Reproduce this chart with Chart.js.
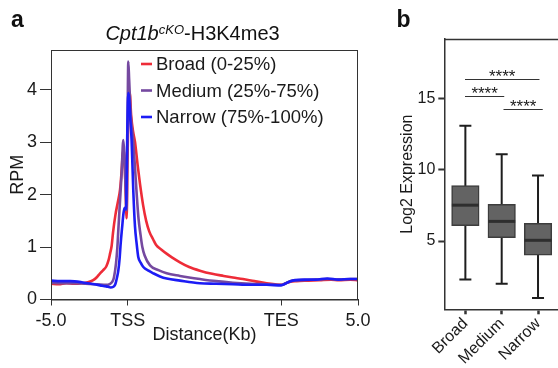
<!DOCTYPE html>
<html>
<head>
<meta charset="utf-8">
<script src="https://cdn.jsdelivr.net/npm/chart.js@4"></script>
<style>
body{margin:0;background:#fff;}
#wrap{position:relative;width:558px;height:368px;overflow:hidden;background:#fff;}
#chartA{position:absolute;left:0;top:0;}
#chartB{position:absolute;left:380px;top:0;}
</style>
</head>
<body>
<div id="wrap">
<canvas id="chartA" width="380" height="368"></canvas>
<canvas id="chartB" width="178" height="368"></canvas>
</div>
<script>
// panel a : H3K4me3 profile, x in bins (0..400, TSS = 100, TES = 300)
const xTicks=[0,100,300,400];
const xTickLabels=["-5.0","TSS","TES","5.0"];
const yTicksA=[0,1,2,3,4];
const seriesNames=["Broad (0-25%)","Medium (25%-75%)","Narrow (75%-100%)"];
const seriesColors=["#ee2c38","#7549a0","#1c1cf5"];

const broadX=[0,10,20,30,40,48,55,60,64,68,72,75,77,79,81,84,87,90,92,94,95.5,97,98.6,99.6,101,102.5,104.5,107,109.5,113,116,120,124,128,133,137,144,151,158,168,180,194,210,225,237,250,265,281,292,301,306,312,320,335,350,365,375,390,400];
const broadY=[0.30,0.29,0.31,0.30,0.31,0.33,0.37,0.43,0.50,0.56,0.63,0.75,0.88,1.02,1.30,1.62,1.85,2.10,2.45,2.85,2.75,2.20,1.55,2.60,3.70,3.95,3.50,3.20,3.00,2.55,2.20,1.80,1.50,1.30,1.15,1.04,0.95,0.87,0.80,0.71,0.62,0.55,0.49,0.45,0.42,0.39,0.35,0.31,0.29,0.28,0.31,0.34,0.35,0.36,0.37,0.38,0.37,0.38,0.37];

const mediumX=[0,15,30,45,60,72,77,80,82,84.7,86.5,87.7,90,92,94.2,95.5,97,98.5,99.5,100.7,101.8,104,107,109.5,111.7,114,116.5,119,122,129,140,150.7,168,180,194,215,237,260,281,301,307,315,330,345,360,375,390,400];
const mediumY=[0.32,0.31,0.31,0.30,0.29,0.28,0.30,0.34,0.42,0.69,1.00,1.32,1.90,2.40,3.04,2.80,2.20,1.70,2.90,4.54,4.20,3.50,3.04,2.50,2.00,1.55,1.25,1.00,0.84,0.65,0.56,0.50,0.45,0.42,0.39,0.35,0.32,0.30,0.29,0.28,0.32,0.36,0.37,0.38,0.39,0.38,0.39,0.39];

const narrowX=[0,12,25,40,52,64,72,78,82,84,86,87.7,89.5,90.8,92.5,94.5,96,97.7,98.5,99.5,100.6,101.8,103.5,105,107.2,109.4,111.7,113.7,117,120.3,127,133.3,142,150.7,168,194,215,237,260,281,300,305,312,318,330,345,360,375,390,400];
const narrowY=[0.36,0.35,0.35,0.33,0.30,0.27,0.25,0.23,0.25,0.30,0.42,0.55,0.80,1.07,1.35,1.65,1.75,1.72,2.20,3.30,3.94,3.85,3.40,3.04,2.08,1.40,1.05,0.81,0.70,0.62,0.55,0.50,0.44,0.40,0.36,0.31,0.30,0.29,0.28,0.28,0.27,0.30,0.35,0.37,0.38,0.38,0.40,0.38,0.39,0.39];

// panel b : log2 expression boxes
const groups=["Broad","Medium","Narrow"];
const whiskerLow=[2.3,2.0,1.0];
const q1=[6.07,5.23,4.0];
const medians=[7.52,6.38,5.05];
const q3=[8.9,7.57,6.24];
const whiskerHigh=[13.1,11.1,9.6];
const yTicksB=[5,10,15];
// significance brackets
const sigFrom=[0.99,0.99,2.05];
const sigTo=[3.04,2.07,3.13];
const sigLevel=[16.4,15.2,14.3];
const sigText=["****","****","****"];

const FONT="'Liberation Sans', Arial, sans-serif";
Chart.defaults.font.family=FONT;
Chart.defaults.color="#1a1a1a";

function pts(xs,ys){return xs.map((x,i)=>({x:x,y:ys[i]}));}

const decorA={
  id:'decorA',
  afterDraw(chart){
    const ctx=chart.ctx, a=chart.chartArea;
    ctx.save();
    // box frame
    ctx.strokeStyle="#333";ctx.lineWidth=1;
    ctx.strokeRect(a.left+0.5,a.top+0.5,a.right-a.left-1,a.bottom-a.top);
    // panel letter
    ctx.fillStyle="#111";
    ctx.font="bold 23px "+FONT;ctx.textBaseline="alphabetic";ctx.textAlign="left";
    ctx.fillText("a",11,27);
    // title with italic gene + superscript
    const parts=[["italic 20px "+FONT,"Cpt1b",0],["italic 13px "+FONT,"cKO",-6.5],["20px "+FONT,"-H3K4me3",0]];
    let w=0;
    parts.forEach(p=>{ctx.font=p[0];w+=ctx.measureText(p[1]).width;});
    let x=192.5-w/2;
    parts.forEach(p=>{ctx.font=p[0];ctx.fillText(p[1],x,40+p[2]);x+=ctx.measureText(p[1]).width;});
    // legend
    ctx.font="18.5px "+FONT;ctx.textBaseline="middle";
    const ly=[64,90.5,117];
    seriesNames.forEach((n,i)=>{
      ctx.strokeStyle=seriesColors[i];ctx.lineWidth=2.6;
      ctx.beginPath();ctx.moveTo(141,ly[i]);ctx.lineTo(152,ly[i]);ctx.stroke();
      ctx.fillStyle="#1a1a1a";ctx.fillText(n,156,ly[i]+1);
    });
    ctx.restore();
  }
};

new Chart(document.getElementById('chartA'),{
  type:'line',
  data:{datasets:[
    {label:seriesNames[0],data:pts(broadX,broadY),borderColor:seriesColors[0],order:3},
    {label:seriesNames[1],data:pts(mediumX,mediumY),borderColor:seriesColors[1],order:2},
    {label:seriesNames[2],data:pts(narrowX,narrowY),borderColor:seriesColors[2],order:1}
  ]},
  options:{
    responsive:false,animation:false,
    elements:{line:{borderWidth:2.6,cubicInterpolationMode:'monotone',fill:false},point:{radius:0}},
    layout:{padding:{top:50,right:22,left:0,bottom:0}},
    plugins:{legend:{display:false},tooltip:{enabled:false}},
    scales:{
      x:{type:'linear',min:0,max:400,
        afterFit(s){s.height=68.5;},
        afterBuildTicks(s){s.ticks=xTicks.map(v=>({value:v}));},
        ticks:{callback:v=>xTickLabels[xTicks.indexOf(v)],font:{size:18},color:'#1a1a1a',maxRotation:0,autoSkip:false,padding:5},
        grid:{drawOnChartArea:false,tickLength:6,color:'#333'},
        border:{color:'#333',width:1},
        title:{display:true,text:'Distance(Kb)',font:{size:18},color:'#1a1a1a',padding:{top:0,bottom:22}}
      },
      y:{min:0,max:4.76,
        afterFit(s){s.width=51;},
        afterBuildTicks(s){s.ticks=yTicksA.map(v=>({value:v}));},
        ticks:{font:{size:18},color:'#1a1a1a',padding:3},
        grid:{drawOnChartArea:false,tickLength:11,color:'#333'},
        border:{color:'#333',width:1},
        title:{display:true,text:'RPM',font:{size:18},color:'#1a1a1a',padding:{top:7.5,bottom:0}}
      }
    }
  },
  plugins:[decorA]
});

const boxParts={
  id:'boxParts',
  beforeDatasetsDraw(chart){
    const ctx=chart.ctx,xs=chart.scales.x,ys=chart.scales.y;
    ctx.save();ctx.strokeStyle="#1e1e1e";ctx.lineWidth=2;
    groups.forEach((g,i)=>{
      const x=xs.getPixelForValue(i+1);
      const lo=ys.getPixelForValue(whiskerLow[i]),hi=ys.getPixelForValue(whiskerHigh[i]);
      ctx.beginPath();
      ctx.moveTo(x,lo);ctx.lineTo(x,hi);
      ctx.moveTo(x-6,lo);ctx.lineTo(x+6,lo);
      ctx.moveTo(x-6,hi);ctx.lineTo(x+6,hi);
      ctx.stroke();
    });
    ctx.restore();
  },
  afterDatasetsDraw(chart){
    const ctx=chart.ctx,xs=chart.scales.x,ys=chart.scales.y;
    ctx.save();ctx.strokeStyle="#2e2e2e";ctx.lineWidth=3;
    groups.forEach((g,i)=>{
      const x=xs.getPixelForValue(i+1),m=ys.getPixelForValue(medians[i]);
      ctx.beginPath();ctx.moveTo(x-13.5,m);ctx.lineTo(x+13.5,m);ctx.stroke();
    });
    ctx.restore();
  },
  afterDraw(chart){
    const ctx=chart.ctx,a=chart.chartArea,xs=chart.scales.x,ys=chart.scales.y;
    ctx.save();
    ctx.strokeStyle="#333";ctx.lineWidth=1.5;
    ctx.beginPath();ctx.moveTo(a.left,a.top+0.5);ctx.lineTo(a.right,a.top+0.5);ctx.stroke();
    ctx.lineWidth=1;ctx.strokeStyle="#333";ctx.fillStyle="#1a1a1a";
    ctx.font="17px "+FONT;ctx.textAlign="center";ctx.textBaseline="alphabetic";
    sigLevel.forEach((lv,i)=>{
      const y=Math.round(ys.getPixelForValue(lv))+0.5;
      const x0=xs.getPixelForValue(sigFrom[i]),x1=xs.getPixelForValue(sigTo[i]);
      ctx.beginPath();ctx.moveTo(x0,y);ctx.lineTo(x1,y);ctx.stroke();
      ctx.fillText(sigText[i],(x0+x1)/2,y+2);
    });
    ctx.fillStyle="#111";ctx.font="bold 23px "+FONT;ctx.textAlign="left";
    ctx.fillText("b",16.5,27);
    ctx.restore();
  }
};

new Chart(document.getElementById('chartB'),{
  type:'bar',
  data:{datasets:[{
    data:groups.map((g,i)=>({x:i+1,y:[q1[i],q3[i]]})),
    backgroundColor:'#636363',borderColor:'#3d3d3d',borderWidth:1.5,borderSkipped:false,
    barThickness:27.5
  }]},
  options:{
    responsive:false,animation:false,
    layout:{padding:{top:39,right:0,left:0,bottom:0}},
    plugins:{legend:{display:false},tooltip:{enabled:false}},
    scales:{
      x:{type:'linear',min:0.42,max:3.55,offset:false,
        afterFit(s){s.height=58.7;},
        afterBuildTicks(s){s.ticks=[1,2,3].map(v=>({value:v}));},
        ticks:{callback:v=>groups[v-1],font:{size:16},color:'#1a1a1a',minRotation:45,maxRotation:45,autoSkip:false,padding:0},
        grid:{drawOnChartArea:false,offset:false,tickLength:5,tickWidth:2.5,color:'#333'},
        border:{color:'#333',width:1.5}
      },
      y:{min:0.2,max:19.2,
        afterFit(s){s.width=64.3;},
        afterBuildTicks(s){s.ticks=yTicksB.map(v=>({value:v}));},
        ticks:{font:{size:16},color:'#1a1a1a',padding:3},
        grid:{drawOnChartArea:false,tickLength:6,tickWidth:2,color:'#333'},
        border:{color:'#333',width:1.5},
        title:{display:true,text:'Log2 Expression',font:{size:16},color:'#1a1a1a',padding:{top:18.4,bottom:0}}
      }
    }
  },
  plugins:[boxParts]
});
</script>
</body>
</html>
